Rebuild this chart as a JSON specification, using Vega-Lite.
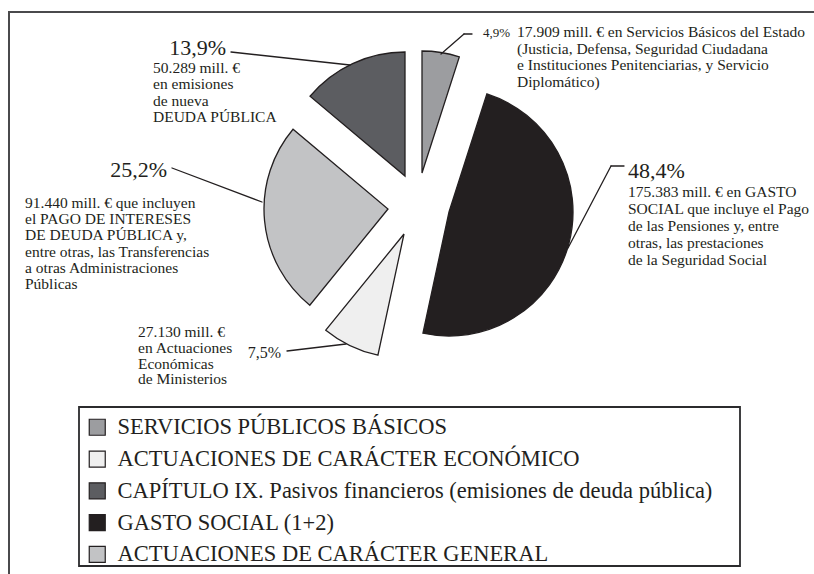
{
  "$schema": "https://vega.github.io/schema/vega-lite/v6.json",
  "width": 814,
  "height": 574,
  "autosize": {"type": "none"},
  "padding": 0,
  "background": "white",
  "config": {"view": {"stroke": null}, "font": "Liberation Serif"},
  "data": {
    "values": [
      {"clave": "SPB", "categoria": "SERVICIOS PÚBLICOS BÁSICOS", "orden": 1, "millones": 17909, "porcentaje": "4,9%", "detalle": ["17.909 mill. € en Servicios Básicos del Estado", "(Justicia, Defensa, Seguridad Ciudadana", "e Instituciones Penitenciarias, y Servicio", "Diplomático)"]},
      {"clave": "GS", "categoria": "GASTO SOCIAL (1+2)", "orden": 2, "millones": 175383, "porcentaje": "48,4%", "detalle": ["175.383 mill. € en GASTO", "SOCIAL que incluye el Pago", "de las Pensiones y, entre", "otras, las prestaciones", "de la Seguridad Social"]},
      {"clave": "ACE", "categoria": "ACTUACIONES DE CARÁCTER ECONÓMICO", "orden": 3, "millones": 27130, "porcentaje": "7,5%", "detalle": ["27.130 mill. €", "en Actuaciones", "Económicas", "de Ministerios"]},
      {"clave": "ACG", "categoria": "ACTUACIONES DE CARÁCTER GENERAL", "orden": 4, "millones": 91440, "porcentaje": "25,2%", "detalle": ["91.440 mill. € que incluyen", "el PAGO DE INTERESES", "DE DEUDA PÚBLICA y,", "entre otras, las Transferencias", "a otras Administraciones", "Públicas"]},
      {"clave": "CAP9", "categoria": "CAPÍTULO IX. Pasivos financieros (emisiones de deuda pública)", "orden": 5, "millones": 50289, "porcentaje": "13,9%", "detalle": ["50.289 mill. €", "en emisiones", "de nueva", "DEUDA PÚBLICA"]}
    ]
  },
  "layer": [
    {
      "data": {"values": [{"elemento": "marco"}]},
      "mark": {"type": "rect", "x": 9, "y": 12, "x2": 816, "y2": 576, "fillOpacity": 0, "stroke": "#4a4a4c", "strokeWidth": 2}
    },
    {
      "data": {"values": [{"elemento": "caja de leyenda"}]},
      "mark": {"type": "rect", "x": 79, "y": 407, "x2": 740, "y2": 566, "fillOpacity": 0, "stroke": "#2b2b2d", "strokeWidth": 1.8}
    },
    {
      "encoding": {
        "theta": {"field": "millones", "type": "quantitative", "stack": true},
        "order": {"field": "orden", "type": "quantitative"},
        "fill": {
          "field": "categoria",
          "type": "nominal",
          "scale": {
            "domain": ["SERVICIOS PÚBLICOS BÁSICOS", "ACTUACIONES DE CARÁCTER ECONÓMICO", "CAPÍTULO IX. Pasivos financieros (emisiones de deuda pública)", "GASTO SOCIAL (1+2)", "ACTUACIONES DE CARÁCTER GENERAL"],
            "range": ["#9c9da0", "#efefef", "#5c5d61", "#231f20", "#c2c3c5"]
          },
          "legend": {
            "orient": "none", "legendX": 76, "legendY": 406, "title": null,
            "symbolType": "square", "symbolSize": 256, "symbolStrokeColor": "#231f20", "symbolStrokeWidth": 1.2,
            "labelFont": "Liberation Serif", "labelFontSize": 22.5, "labelColor": "#231f20", "labelLimit": 0, "labelOffset": 9,
            "padding": 10, "rowPadding": 8.8
          }
        }
      },
      "layer": [
        {"mark": {"type": "arc", "x": 422, "y": 173, "radius": 122, "stroke": "#231f20", "strokeWidth": 1.3},
         "encoding": {"opacity": {"condition": {"test": "datum.clave === 'SPB'", "value": 1}, "value": 0}}},
        {"mark": {"type": "arc", "x": 449, "y": 212, "radius": 124, "stroke": "#231f20", "strokeWidth": 1.3},
         "encoding": {"opacity": {"condition": {"test": "datum.clave === 'GS'", "value": 1}, "value": 0}}},
        {"mark": {"type": "arc", "x": 404, "y": 234, "radius": 124, "stroke": "#231f20", "strokeWidth": 1.3},
         "encoding": {"opacity": {"condition": {"test": "datum.clave === 'ACE'", "value": 1}, "value": 0}}},
        {"mark": {"type": "arc", "x": 388, "y": 209, "radius": 124, "stroke": "#231f20", "strokeWidth": 1.3},
         "encoding": {"opacity": {"condition": {"test": "datum.clave === 'ACG'", "value": 1}, "value": 0}}},
        {"mark": {"type": "arc", "x": 405, "y": 176, "radius": 124, "stroke": "#231f20", "strokeWidth": 1.3},
         "encoding": {"opacity": {"condition": {"test": "datum.clave === 'CAP9'", "value": 1}, "value": 0}}}
      ]
    },
    {"transform": [{"filter": "datum.clave === 'SPB'"}], "mark": {"type": "rule", "stroke": "#231f20", "strokeWidth": 1.3, "strokeCap": "round"}, "encoding": {"x": {"value": 472}, "y": {"value": 34}, "x2": {"value": 464}, "y2": {"value": 34}}},
    {"transform": [{"filter": "datum.clave === 'SPB'"}], "mark": {"type": "rule", "stroke": "#231f20", "strokeWidth": 1.3, "strokeCap": "round"}, "encoding": {"x": {"value": 464}, "y": {"value": 34}, "x2": {"value": 441}, "y2": {"value": 54}}},
    {"transform": [{"filter": "datum.clave === 'GS'"}], "mark": {"type": "rule", "stroke": "#231f20", "strokeWidth": 1.3, "strokeCap": "round"}, "encoding": {"x": {"value": 624}, "y": {"value": 166}, "x2": {"value": 611}, "y2": {"value": 166}}},
    {"transform": [{"filter": "datum.clave === 'GS'"}], "mark": {"type": "rule", "stroke": "#231f20", "strokeWidth": 1.3, "strokeCap": "round"}, "encoding": {"x": {"value": 611}, "y": {"value": 166}, "x2": {"value": 568}, "y2": {"value": 248}}},
    {"transform": [{"filter": "datum.clave === 'ACE'"}], "mark": {"type": "rule", "stroke": "#231f20", "strokeWidth": 1.3, "strokeCap": "round"}, "encoding": {"x": {"value": 287}, "y": {"value": 351}, "x2": {"value": 346}, "y2": {"value": 344}}},
    {"transform": [{"filter": "datum.clave === 'ACG'"}], "mark": {"type": "rule", "stroke": "#231f20", "strokeWidth": 1.3, "strokeCap": "round"}, "encoding": {"x": {"value": 172}, "y": {"value": 168}, "x2": {"value": 262}, "y2": {"value": 202}}},
    {"transform": [{"filter": "datum.clave === 'CAP9'"}], "mark": {"type": "rule", "stroke": "#231f20", "strokeWidth": 1.3, "strokeCap": "round"}, "encoding": {"x": {"value": 231}, "y": {"value": 52}, "x2": {"value": 350}, "y2": {"value": 65}}},
    {"transform": [{"filter": "datum.clave === 'SPB'"}], "mark": {"type": "text", "x": 483, "y": 37, "align": "left", "baseline": "alphabetic", "font": "Liberation Serif", "fontSize": 13, "color": "#231f20"}, "encoding": {"text": {"field": "porcentaje"}}},
    {"transform": [{"filter": "datum.clave === 'GS'"}], "mark": {"type": "text", "x": 628, "y": 178, "align": "left", "baseline": "alphabetic", "font": "Liberation Serif", "fontSize": 22, "color": "#231f20"}, "encoding": {"text": {"field": "porcentaje"}}},
    {"transform": [{"filter": "datum.clave === 'ACE'"}], "mark": {"type": "text", "x": 281, "y": 358, "align": "right", "baseline": "alphabetic", "font": "Liberation Serif", "fontSize": 16, "color": "#231f20"}, "encoding": {"text": {"field": "porcentaje"}}},
    {"transform": [{"filter": "datum.clave === 'ACG'"}], "mark": {"type": "text", "x": 167, "y": 177, "align": "right", "baseline": "alphabetic", "font": "Liberation Serif", "fontSize": 22, "color": "#231f20"}, "encoding": {"text": {"field": "porcentaje"}}},
    {"transform": [{"filter": "datum.clave === 'CAP9'"}], "mark": {"type": "text", "x": 226, "y": 55, "align": "right", "baseline": "alphabetic", "font": "Liberation Serif", "fontSize": 22, "color": "#231f20"}, "encoding": {"text": {"field": "porcentaje"}}},
    {"transform": [{"filter": "datum.clave === 'SPB'"}], "mark": {"type": "text", "x": 517, "y": 37, "align": "left", "baseline": "alphabetic", "font": "Liberation Serif", "fontSize": 15.5, "lineHeight": 16.5, "color": "#231f20"}, "encoding": {"text": {"field": "detalle"}}},
    {"transform": [{"filter": "datum.clave === 'GS'"}], "mark": {"type": "text", "x": 628, "y": 197, "align": "left", "baseline": "alphabetic", "font": "Liberation Serif", "fontSize": 15.5, "lineHeight": 17, "color": "#231f20"}, "encoding": {"text": {"field": "detalle"}}},
    {"transform": [{"filter": "datum.clave === 'ACE'"}], "mark": {"type": "text", "x": 138, "y": 337, "align": "left", "baseline": "alphabetic", "font": "Liberation Serif", "fontSize": 15.5, "lineHeight": 15.8, "color": "#231f20"}, "encoding": {"text": {"field": "detalle"}}},
    {"transform": [{"filter": "datum.clave === 'ACG'"}], "mark": {"type": "text", "x": 25, "y": 208, "align": "left", "baseline": "alphabetic", "font": "Liberation Serif", "fontSize": 15.5, "lineHeight": 16.2, "color": "#231f20"}, "encoding": {"text": {"field": "detalle"}}},
    {"transform": [{"filter": "datum.clave === 'CAP9'"}], "mark": {"type": "text", "x": 153, "y": 73, "align": "left", "baseline": "alphabetic", "font": "Liberation Serif", "fontSize": 15.5, "lineHeight": 16.3, "color": "#231f20"}, "encoding": {"text": {"field": "detalle"}}}
  ]
}
